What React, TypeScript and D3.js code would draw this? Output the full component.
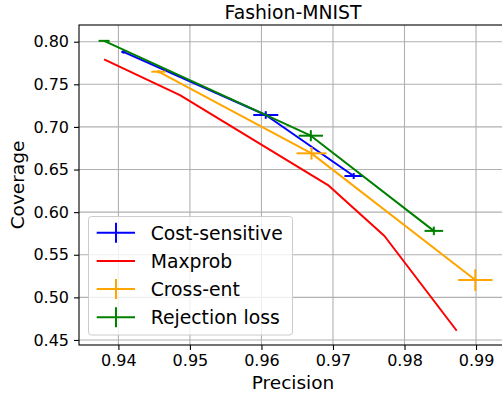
import React, { useEffect, useRef } from "react";
import * as d3 from "d3";

const costX = [0.9407, 0.9606, 0.9729];
const costY = [0.788, 0.714, 0.6424];
const costXerr = [0.0003, 0.00175, 0.0013];
const costYerr = [0.002, 0.0045, 0.0035];

const maxprobX = [0.938, 0.9486, 0.9693, 0.9772, 0.9873];
const maxprobY = [0.7793, 0.7374, 0.6318, 0.572, 0.4608];

const crossX = [0.9456, 0.967, 0.9899];
const crossY = [0.7648, 0.669, 0.5203];
const crossXerr = [0.001, 0.0021, 0.0024];
const crossYerr = [0.002, 0.0074, 0.0127];

const rejX = [0.938, 0.9669, 0.9841];
const rejY = [0.801, 0.6897, 0.578];
const rejXerr = [0.00077, 0.0017, 0.0013];
const rejYerr = [0.0005, 0.0065, 0.005];

const xTicks = [0.94, 0.95, 0.96, 0.97, 0.98, 0.99];
const yTicks = [0.45, 0.5, 0.55, 0.6, 0.65, 0.7, 0.75, 0.8];

const series = [
  { name: "Cost-sensitive", color: "blue", x: costX, y: costY, xerr: costXerr, yerr: costYerr },
  { name: "Maxprob", color: "red", x: maxprobX, y: maxprobY, xerr: null, yerr: null },
  { name: "Cross-ent", color: "orange", x: crossX, y: crossY, xerr: crossXerr, yerr: crossYerr },
  { name: "Rejection loss", color: "green", x: rejX, y: rejY, xerr: rejXerr, yerr: rejYerr },
];

const W = 502;
const H = 394;
const FONT = "DejaVu Sans, sans-serif";

const App = () => {
  const ref = useRef(null);

  useEffect(() => {
    const svg = d3.select(ref.current);
    svg.selectAll("*").remove();

    const left = 79, right = 507, top = 25, bottom = 345;
    const x = d3.scaleLinear().domain([0.93449, 0.99433]).range([left, right]);
    const y = d3.scaleLinear().domain([0.4441, 0.8196]).range([bottom, top]);

    svg.append("rect").attr("width", W).attr("height", H).attr("fill", "white");

    // grid
    const grid = svg.append("g").attr("stroke", "#b0b0b0").attr("stroke-width", 1.1);
    xTicks.forEach((t) => {
      grid.append("line").attr("x1", x(t)).attr("x2", x(t)).attr("y1", top).attr("y2", bottom);
    });
    yTicks.forEach((t) => {
      grid.append("line").attr("x1", left).attr("x2", right).attr("y1", y(t)).attr("y2", y(t));
    });

    const plot = svg.append("g");
    const line = d3
      .line()
      .x((d) => x(d[0]))
      .y((d) => y(d[1]));

    series.forEach((s) => {
      const pts = s.x.map((v, i) => [v, s.y[i]]);
      plot
        .append("path")
        .attr("d", line(pts))
        .attr("fill", "none")
        .attr("stroke", s.color)
        .attr("stroke-width", 2)
        .attr("stroke-linejoin", "round");
      if (s.xerr) {
        pts.forEach((p, i) => {
          plot
            .append("line")
            .attr("x1", x(p[0] - s.xerr[i]))
            .attr("x2", x(p[0] + s.xerr[i]))
            .attr("y1", y(p[1]))
            .attr("y2", y(p[1]))
            .attr("stroke", s.color)
            .attr("stroke-width", 2);
          plot
            .append("line")
            .attr("x1", x(p[0]))
            .attr("x2", x(p[0]))
            .attr("y1", y(p[1] - s.yerr[i]))
            .attr("y2", y(p[1] + s.yerr[i]))
            .attr("stroke", s.color)
            .attr("stroke-width", 2);
        });
      }
    });

    // spines
    svg
      .append("rect")
      .attr("x", left)
      .attr("y", top)
      .attr("width", right - left)
      .attr("height", bottom - top)
      .attr("fill", "none")
      .attr("stroke", "black")
      .attr("stroke-width", 1.1);

    // ticks
    const xAxis = svg
      .append("g")
      .attr("transform", `translate(0,${bottom})`)
      .call(d3.axisBottom(x).tickValues(xTicks).tickFormat(d3.format(".2f")).tickSize(5).tickPadding(5));
    const yAxis = svg
      .append("g")
      .attr("transform", `translate(${left},0)`)
      .call(d3.axisLeft(y).tickValues(yTicks).tickFormat(d3.format(".2f")).tickSize(5).tickPadding(5));
    [xAxis, yAxis].forEach((a) => {
      a.select(".domain").remove();
      a.selectAll("line").attr("stroke", "black").attr("stroke-width", 1.1);
      a.selectAll("text").attr("font-family", FONT).attr("font-size", 16).attr("fill", "black");
    });

    svg
      .append("text")
      .attr("x", (left + right) / 2)
      .attr("y", 19)
      .attr("text-anchor", "middle")
      .attr("font-family", FONT)
      .attr("font-size", 18.8)
      .text("Fashion-MNIST");

    svg
      .append("text")
      .attr("x", (left + right) / 2)
      .attr("y", 389)
      .attr("text-anchor", "middle")
      .attr("font-family", FONT)
      .attr("font-size", 18.5)
      .text("Precision");

    svg
      .append("text")
      .attr("transform", `translate(24,${(top + bottom) / 2}) rotate(-90)`)
      .attr("text-anchor", "middle")
      .attr("font-family", FONT)
      .attr("font-size", 18.5)
      .text("Coverage");

    // legend
    const lg = svg.append("g");
    lg.append("rect")
      .attr("x", 88.5)
      .attr("y", 216.5)
      .attr("width", 204)
      .attr("height", 118.5)
      .attr("rx", 3)
      .attr("fill", "white")
      .attr("fill-opacity", 0.8)
      .attr("stroke", "#cccccc")
      .attr("stroke-width", 1);
    series.forEach((s, i) => {
      const cy = 232.7 + i * 28.2;
      lg.append("line")
        .attr("x1", 96.7)
        .attr("x2", 135)
        .attr("y1", cy)
        .attr("y2", cy)
        .attr("stroke", s.color)
        .attr("stroke-width", 2);
      if (s.xerr) {
        lg.append("line")
          .attr("x1", 116)
          .attr("x2", 116)
          .attr("y1", cy - 10)
          .attr("y2", cy + 10)
          .attr("stroke", s.color)
          .attr("stroke-width", 2);
      }
      lg.append("text")
        .attr("x", 150.7)
        .attr("y", cy + 6.8)
        .attr("font-family", FONT)
        .attr("font-size", 18.8)
        .text(s.name);
    });
  }, []);

  return (
    <svg
      ref={ref}
      width={W}
      height={H}
      style={{ position: "absolute", left: 0, top: 0, display: "block" }}
    ></svg>
  );
};

export default App;
